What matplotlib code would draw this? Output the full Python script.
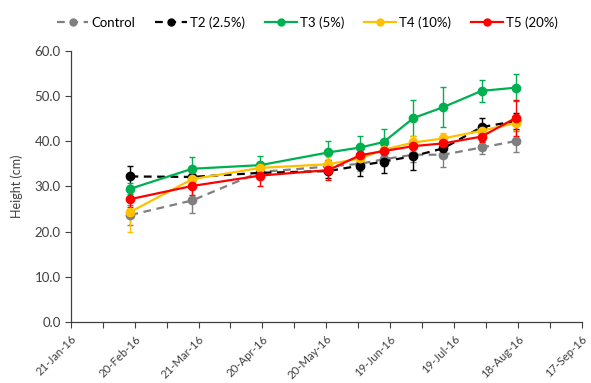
#!/usr/bin/env python

import datetime as dt
import matplotlib as mpl
mpl.use('Agg')
import matplotlib.pyplot as plt
import matplotlib.dates as mdates
from matplotlib.lines import Line2D

# Sampling dates
dates = ['2016-02-18', '2016-03-18', '2016-04-19', '2016-05-21', '2016-06-05',
         '2016-06-16', '2016-06-30', '2016-07-14', '2016-08-01', '2016-08-17']

control = [23.7, 26.9, 33.2, 34.4, 35.0, 36.0, 37.0, 37.0, 38.6, 40.0]
control_err = [2.3, 2.7, 1.5, 1.5, 1.5, 1.5, 1.5, 2.8, 1.4, 2.3]
t2 = [32.2, 32.1, 33.0, 33.4, 34.6, 35.5, 36.7, 38.4, 43.1, 44.4]
t2_err = [2.2, 1.5, 1.2, 1.5, 2.4, 2.5, 3.1, 1.8, 2.0, 1.8]
t3 = [29.5, 33.9, 34.7, 37.5, 38.6, 39.8, 45.1, 47.5, 51.1, 51.8]
t3_err = [1.2, 2.7, 2.0, 2.6, 2.6, 2.8, 3.9, 4.4, 2.4, 3.0]
t4 = [24.4, 31.6, 34.1, 34.9, 36.2, 38.1, 39.7, 40.6, 42.3, 44.0]
t4_err = [4.5, 1.5, 1.2, 1.5, 1.2, 1.2, 1.5, 1.2, 1.2, 1.5]
t5 = [27.2, 30.1, 32.4, 33.6, 36.9, 37.8, 38.9, 39.5, 41.0, 45.1]
t5_err = [1.8, 2.0, 2.3, 2.2, 1.2, 1.2, 1.5, 1.2, 1.2, 3.9]

labels = ['Control', 'T2 (2.5%)', 'T3 (5%)', 'T4 (10%)', 'T5 (20%)']
colors = ['#7f7f7f', '#000000', '#00b050', '#ffc000', '#ff0000']
styles = ['--', '--', '-', '-', '-']

x = [dt.datetime.strptime(d, '%Y-%m-%d') for d in dates]
series = [(control, control_err), (t2, t2_err), (t3, t3_err),
          (t4, t4_err), (t5, t5_err)]

plt.rcParams['font.family'] = ['Lato', 'DejaVu Sans']
fig = plt.figure(figsize=(5.91, 3.83), dpi=100)
ax = fig.add_axes([0.120, 0.1585, 0.864, 0.7095])

handles = []
for (y, e), lab, c, ls in zip(series, labels, colors, styles):
    dashes = (3.5, 2.5) if ls == '--' else (None, None)
    ax.errorbar(x, y, yerr=e, color=c, ecolor=c, linestyle=ls,
                linewidth=1.6, marker='o', markersize=6,
                capsize=2.5, elinewidth=1.0, capthick=1.0,
                dashes=dashes)
    handles.append(Line2D([], [], color=c, linestyle=ls, dashes=dashes,
                          linewidth=1.6, marker='o', markersize=5))

start = dt.datetime(2016, 1, 21)
end = dt.datetime(2016, 9, 17)
ax.set_xlim(start, end)
ax.set_ylim(0, 60)

major = [start + dt.timedelta(days=30 * k) for k in range(9)]
minor = [start + dt.timedelta(days=15 * k) for k in range(17)]
ax.xaxis.set_major_locator(mpl.ticker.FixedLocator(mdates.date2num(major)))
ax.xaxis.set_minor_locator(mpl.ticker.FixedLocator(mdates.date2num(minor)))
ax.xaxis.set_major_formatter(mdates.DateFormatter('%d-%b-%y'))
ax.yaxis.set_major_locator(mpl.ticker.MultipleLocator(10))
ax.yaxis.set_major_formatter(mpl.ticker.FormatStrFormatter('%.1f'))

for lab in ax.get_xticklabels():
    lab.set_rotation(45)
    lab.set_ha('right')
    lab.set_rotation_mode('anchor')

ax.tick_params(axis='both', which='both', colors='#404040',
               direction='out', length=4, width=0.8)
ax.tick_params(axis='y', labelsize=9.5)
ax.tick_params(axis='x', labelsize=8.2, pad=4)
for side in ['top', 'right']:
    ax.spines[side].set_visible(False)
for side in ['left', 'bottom']:
    ax.spines[side].set_color('#404040')
    ax.spines[side].set_linewidth(0.9)

ax.set_ylabel('Height (cm)', fontsize=9, color='#404040', labelpad=8)

fig.legend(handles=handles, labels=labels, loc='center', ncol=5,
           frameon=False, bbox_to_anchor=(0.52, 0.941), fontsize=9.5,
           handlelength=2.4, columnspacing=1.5, handletextpad=0.25)

plt.savefig('out.png', dpi=100)
